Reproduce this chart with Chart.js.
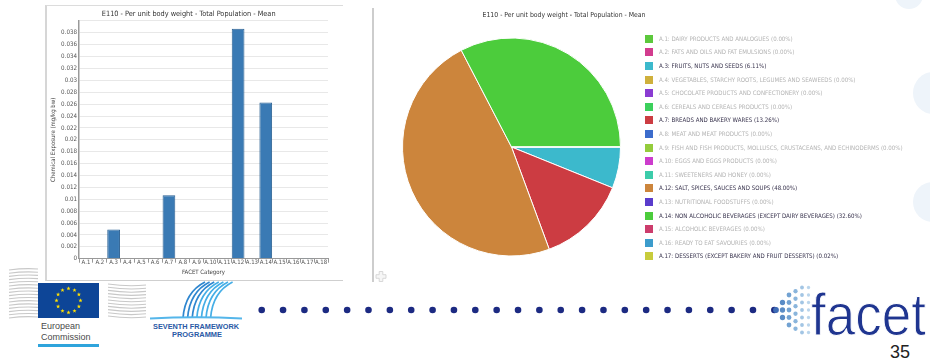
<!DOCTYPE html>
<html>
<head>
<meta charset="utf-8">
<script src="https://cdn.jsdelivr.net/npm/chart.js@4.4.1/dist/chart.umd.min.js"></script>
<style>
  html, body { margin: 0; padding: 0; }
  body { width: 930px; height: 362px; position: relative; overflow: hidden; background: #fff;
         font-family: "DejaVu Sans Condensed", "DejaVu Sans", sans-serif; }
  .abs { position: absolute; }
  .blob { position: absolute; border-radius: 50%; background: #eef4fa; }
  #bar-panel { left: 45px; top: 5px; width: 298px; height: 276px; background: #fff;
               border-top: 1px solid #dcdcdc; border-left: 2px solid #d6d6d6; border-bottom: 1px solid #cfcfcf; box-sizing: border-box; }
  #bar-wrap { left: 47px; top: 6px; }
  #pie-line { left: 372px; top: 8px; width: 2px; height: 274px; background: #cdcdcd; }
  #pie-wrap { left: 374px; top: 0px; }
  #pie-title { left: 364px; top: 10px; width: 400px; text-align: center; font-size: 6.85px; line-height: 10px; color: #333; white-space: nowrap; }
  #legend { left: 645px; top: 0; }
  .row { position: absolute; left: 0; height: 9px; white-space: nowrap; }
  .sw { position: absolute; left: 0; top: 0; width: 8px; height: 8px; }
  .lt { position: absolute; left: 14px; top: -1px; font-size: 6.1px; line-height: 10px; }
</style>
</head>
<body>
<div class="blob" style="left:895px; top:-19px; width:28px; height:28px;"></div>
<div class="blob" style="left:913px; top:72px; width:40px; height:42px;"></div>
<div class="blob" style="left:913px; top:182px; width:40px; height:40px;"></div>

<svg class="abs" style="left:0; top:0;" width="930" height="362" id="deco"></svg>

<div class="abs" id="bar-panel"></div>
<div class="abs" id="bar-wrap"><canvas id="barChart" width="296" height="274"></canvas></div>
<div class="abs" id="pie-line"></div>
<div class="abs" id="pie-wrap"><canvas id="pieChart" width="381" height="280"></canvas></div>
<div class="abs" id="pie-title"></div>
<div class="abs" id="legend"></div>

<script>
const CHART_TITLE = 'E110 - Per unit body weight - Total Population - Mean';

// bar chart: mean exposure per FACET category (mg/kg bw)
const categories = ['A.1', 'A.2', 'A.3', 'A.4', 'A.5', 'A.6', 'A.7', 'A.8', 'A.9',
  'A.10', 'A.11', 'A.12', 'A.13', 'A.14', 'A.15', 'A.16', 'A.17', 'A.18'];
const exposureMean = [0, 0, 0.00492, 0, 0, 0, 0.01068, 0, 0,
  0, 0, 0.0387, 0, 0.02627, 0, 0, 0.000016, 0];
const yTickStep = 0.002;
const yMax = 0.04;

// pie chart: share of each category
const pieCodes = ['A.1', 'A.2', 'A.3', 'A.4', 'A.5', 'A.6', 'A.7', 'A.8', 'A.9',
  'A.10', 'A.11', 'A.12', 'A.13', 'A.14', 'A.15', 'A.16', 'A.17'];
const pieNames = [
  'DAIRY PRODUCTS AND ANALOGUES',
  'FATS AND OILS AND FAT EMULSIONS',
  'FRUITS, NUTS AND SEEDS',
  'VEGETABLES, STARCHY ROOTS, LEGUMES AND SEAWEEDS',
  'CHOCOLATE PRODUCTS AND CONFECTIONERY',
  'CEREALS AND CEREALS PRODUCTS',
  'BREADS AND BAKERY WARES',
  'MEAT AND MEAT PRODUCTS',
  'FISH AND FISH PRODUCTS, MOLLUSCS, CRUSTACEANS, AND ECHINODERMS',
  'EGGS AND EGGS PRODUCTS',
  'SWEETENERS AND HONEY',
  'SALT, SPICES, SAUCES AND SOUPS',
  'NUTRITIONAL FOODSTUFFS',
  'NON ALCOHOLIC BEVERAGES (EXCEPT DAIRY BEVERAGES)',
  'ALCOHOLIC BEVERAGES',
  'READY TO EAT SAVOURIES',
  'DESSERTS (EXCEPT BAKERY AND FRUIT DESSERTS)',
];
const piePercent = [0, 0, 6.11, 0, 0, 0, 13.26, 0, 0, 0, 0, 48.00, 0, 32.60, 0, 0, 0.02];
const pieColors = ['#5cc83c', '#d23c8e', '#3cb9cc', '#cfb03c', '#8a3cd2', '#3cd05c', '#cc3c42', '#3c6ccc',
  '#94cc3c', '#cc3ccc', '#3cccaa', '#cc853c', '#5a3ccc', '#4ccc3c', '#cc3c6c', '#3c9ccc', '#c8cc3c'];

Chart.defaults.font.family = '"DejaVu Sans Condensed", "DejaVu Sans", sans-serif';
Chart.defaults.animation = false;

new Chart(document.getElementById('barChart'), {
  type: 'bar',
  data: {
    labels: categories,
    datasets: [{
      data: exposureMean,
      backgroundColor: '#3a7ab4',
      borderColor: '#2b6193',
      borderWidth: 1,
      barPercentage: 0.92,
      categoryPercentage: 1,
    }],
  },
  options: {
    responsive: false,
    layout: { padding: { left: 2.4, right: 15, top: 0, bottom: 3.7 } },
    plugins: {
      legend: { display: false },
      tooltip: { enabled: false },
      title: {
        display: true,
        text: CHART_TITLE,
        color: '#333',
        font: { size: 7.3, weight: 'normal' },
        padding: { top: 3.6, bottom: 2.6 },
      },
    },
    scales: {
      x: {
        grid: { drawOnChartArea: false, color: '#999', tickLength: 4 },
        border: { color: '#999' },
        ticks: { color: '#555', font: { size: 6 }, padding: -3.6, maxRotation: 0, autoSkip: false },
        // extra top padding makes up for the negative tick padding when the axis is sized
        title: { display: true, text: 'FACET Category', color: '#444', font: { size: 6 }, padding: { top: 6.4, bottom: 0 } },
      },
      y: {
        min: 0,
        max: yMax,
        grid: { color: '#e8e8e8', drawTicks: false },
        border: { color: '#999', width: 1.5 },
        ticks: {
          stepSize: yTickStep,
          color: '#555',
          font: { size: 6.2 },
          padding: 2,
          callback: (v) => (v >= yMax - 1e-9 ? '' : String(+v.toFixed(3))),
        },
        title: {
          display: true,
          text: 'Chemical Exposure (mg/kg bw)',
          color: '#444',
          font: { size: 6 },
          padding: { top: 0, bottom: 2.5 },
        },
      },
    },
  },
});

new Chart(document.getElementById('pieChart'), {
  type: 'pie',
  data: {
    labels: pieCodes,
    datasets: [{
      data: piePercent,
      backgroundColor: pieColors,
      borderColor: '#ffffff',
      borderWidth: 1,
    }],
  },
  options: {
    responsive: false,
    rotation: 90,
    layout: { padding: { left: 28, right: 134, top: 37.5, bottom: 23.5 } },
    plugins: {
      legend: { display: false },
      tooltip: { enabled: false },
    },
  },
});

document.getElementById('pie-title').textContent = CHART_TITLE;

// html legend for the pie
const legendEl = document.getElementById('legend');
pieCodes.forEach((code, i) => {
  const row = document.createElement('div');
  row.className = 'row';
  row.style.top = `${34.7 + i * 13.6}px`;
  const sw = document.createElement('div');
  sw.className = 'sw';
  sw.style.background = pieColors[i];
  const txt = document.createElement('div');
  txt.className = 'lt';
  txt.style.color = piePercent[i] > 0 ? '#38334d' : '#b4b4b4';
  txt.textContent = `${code}: ${pieNames[i]} (${piePercent[i].toFixed(2)}%)`;
  row.appendChild(sw);
  row.appendChild(txt);
  legendEl.appendChild(row);
});

// slide decoration: logos, dotted rule, page number
const svg = document.getElementById('deco');
const NS = 'http://www.w3.org/2000/svg';
function add(tag, attrs, text) {
  const el = document.createElementNS(NS, tag);
  Object.entries(attrs).forEach(([k, v]) => el.setAttribute(k, v));
  if (text) el.textContent = text;
  svg.appendChild(el);
  return el;
}

// EC stripes
for (let i = 0; i < 16; i++) {
  const y = 268 + i * 3.2;
  add('path', { d: `M9 ${y + 2} Q24 ${y} 38 ${y + 1}`, stroke: '#c8c8c8', 'stroke-width': 1.1, fill: 'none' });
  if (y > 281) add('path', { d: `M108 ${y} Q128 ${y + 3} 146 ${y + 1}`, stroke: '#c8c8c8', 'stroke-width': 1.1, fill: 'none' });
}
// EU flag
add('rect', { x: 38, y: 283, width: 61, height: 35, fill: '#0d4597' });
for (let i = 0; i < 12; i++) {
  const a = (i / 12) * Math.PI * 2;
  const cx = 68.5 + Math.sin(a) * 12;
  const cy = 300.5 - Math.cos(a) * 12;
  const pts = [];
  for (let k = 0; k < 10; k++) {
    const r = k % 2 === 0 ? 2.2 : 0.9;
    const b = (k / 10) * Math.PI * 2;
    pts.push(`${(cx + Math.sin(b) * r).toFixed(2)},${(cy - Math.cos(b) * r).toFixed(2)}`);
  }
  add('polygon', { points: pts.join(' '), fill: '#ffe000' });
}
add('text', { x: 41, y: 328.5, 'font-size': 9, fill: '#4a4a4a', 'font-family': 'Liberation Sans, Arial, sans-serif' }, 'European');
add('text', { x: 41, y: 339.5, 'font-size': 9, fill: '#4a4a4a', 'font-family': 'Liberation Sans, Arial, sans-serif' }, 'Commission');
add('rect', { x: 38, y: 344, width: 61, height: 3, fill: '#2fa4dc' });

// FP7 logo
for (let i = 0; i < 7; i++) {
  const x0 = 183 + i * 4.6;
  add('path', { d: `M${x0} 318 Q${x0 + 2} 292 ${x0 + 22} 282`, stroke: i < 3 ? '#2f86cf' : '#45aee6', 'stroke-width': 1.7, fill: 'none' });
}
add('path', { d: 'M150 318.5 Q196 316 242 318.5', stroke: '#55b6ea', 'stroke-width': 2, fill: 'none' });
add('text', { x: 153, y: 329, 'font-size': 7.5, 'font-weight': 'bold', fill: '#2a5aa6', textLength: 86, lengthAdjust: 'spacingAndGlyphs', 'font-family': 'Liberation Sans, Arial, sans-serif' }, 'SEVENTH FRAMEWORK');
add('text', { x: 172, y: 337, 'font-size': 7.5, 'font-weight': 'bold', fill: '#2a5aa6', textLength: 50, lengthAdjust: 'spacingAndGlyphs', 'font-family': 'Liberation Sans, Arial, sans-serif' }, 'PROGRAMME');

// dotted rule
for (let i = 0; i < 25; i++) {
  add('circle', { cx: 261.7 + i * 21.36, cy: 310, r: 3.3, fill: '#1c2a82' });
}
// facet dot fan
const fanCounts = [1, 3, 5, 6, 7, 7];
const fanColors = ['#3e6cb6', '#5a8cc6', '#72a2d2', '#8ab5dc', '#a2c5e4', '#bad5ec'];
fanCounts.forEach((n, c) => {
  for (let k = 0; k < n; k++) {
    add('circle', { cx: 776 + c * 6.5, cy: 310 + (k - (n - 1) / 2) * 7.5, r: 2.9 - c * 0.25, fill: fanColors[c] });
  }
});
add('text', { x: 811, y: 335, 'font-size': 60, fill: '#1f3590', stroke: '#fff', 'stroke-width': 1, textLength: 115, lengthAdjust: 'spacingAndGlyphs', 'font-family': 'Liberation Sans, Arial, sans-serif' }, 'facet');
add('text', { x: 890, y: 358, 'font-size': 18, fill: '#222', 'font-family': 'Liberation Sans, Arial, sans-serif' }, '35');

// resize handles
[[56.5, 271.5], [381, 276.5]].forEach(([x, y]) => {
  add('path', { d: `M${x - 1.8} ${y - 5} h3.6 v3.2 h3.2 v3.6 h-3.2 v3.2 h-3.6 v-3.2 h-3.2 v-3.6 h3.2 z`, fill: '#f6f6f6', stroke: '#cfcfcf', 'stroke-width': 0.8 });
});
</script>
</body>
</html>
